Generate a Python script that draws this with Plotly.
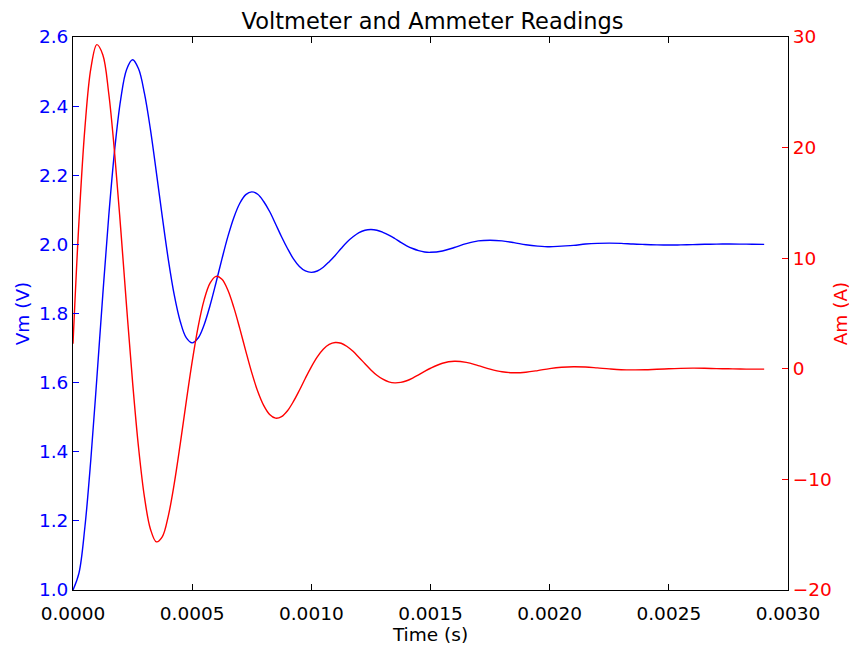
import plotly.graph_objects as go

time_s = [
    0.0, 0.000025, 0.00005, 0.000075, 0.0001, 0.000125, 0.00015, 0.000175, 0.0002, 0.000225,
    0.00025, 0.000275, 0.0003, 0.000325, 0.00035, 0.000375, 0.0004, 0.000425, 0.00045, 0.000475,
    0.0005, 0.000525, 0.00055, 0.000575, 0.0006, 0.000625, 0.00065, 0.000675, 0.0007, 0.000725,
    0.00075, 0.000775, 0.0008, 0.000825, 0.00085, 0.000875, 0.0009, 0.000925, 0.00095, 0.000975,
    0.001, 0.001025, 0.00105, 0.001075, 0.0011, 0.001125, 0.00115, 0.001175, 0.0012, 0.001225,
    0.00125, 0.001275, 0.0013, 0.001325, 0.00135, 0.001375, 0.0014, 0.001425, 0.00145, 0.001475,
    0.0015, 0.00155, 0.0016, 0.00165, 0.0017, 0.00175, 0.0018, 0.00185, 0.0019, 0.00195,
    0.002, 0.00205, 0.0021, 0.00215, 0.0022, 0.00225, 0.0023, 0.00235, 0.0024, 0.00245,
    0.0025, 0.00255, 0.0026, 0.00265, 0.0027, 0.00275, 0.0028, 0.00285, 0.0029,
]

voltmeter_v = [
    1.000, 1.049, 1.183, 1.379, 1.612, 1.854, 2.082, 2.275, 2.419, 2.506,
    2.534, 2.508, 2.436, 2.332, 2.207, 2.078, 1.956, 1.853, 1.777, 1.730,
    1.715, 1.729, 1.767, 1.823, 1.889, 1.958, 2.023, 2.078, 2.119, 2.144,
    2.152, 2.145, 2.124, 2.095, 2.059, 2.022, 1.988, 1.958, 1.936, 1.923,
    1.919, 1.923, 1.934, 1.950, 1.968, 1.988, 2.007, 2.022, 2.034, 2.041,
    2.043, 2.041, 2.035, 2.027, 2.017, 2.006, 1.996, 1.988, 1.982, 1.978,
    1.977, 1.981, 1.991, 2.002, 2.010, 2.012, 2.010, 2.005, 1.999, 1.995,
    1.993, 1.995, 1.997, 2.001, 2.003, 2.0035, 2.003, 2.001, 1.9997, 1.9985,
    1.998, 1.9985, 1.9993, 2.0002, 2.0008, 2.001, 2.0008, 2.0004, 1.9999,
]

ammeter_a = [
    2.27, 13.31, 21.78, 27.16, 29.31, 28.40, 24.89, 19.41, 12.72, 5.60,
    -1.21, -7.11, -11.63, -14.50, -15.65, -15.17, -13.29, -10.36, -6.79, -2.99,
    0.65, 3.80, 6.21, 7.74, 8.36, 8.10, 7.10, 5.53, 3.63, 1.60,
    -0.35, -2.03, -3.31, -4.13, -4.46, -4.32, -3.79, -2.95, -1.94, -0.85,
    0.18, 1.08, 1.77, 2.21, 2.38, 2.31, 2.02, 1.58, 1.03, 0.46,
    -0.10, -0.58, -0.94, -1.18, -1.27, -1.23, -1.08, -0.84, -0.55, -0.24,
    0.05, 0.50, 0.68, 0.58, 0.29, -0.03, -0.27, -0.36, -0.31, -0.16,
    0.02, 0.14, 0.19, 0.16, 0.08, -0.01, -0.08, -0.10, -0.09, -0.04,
    0.00, 0.04, 0.06, 0.05, 0.02, 0.00, -0.02, -0.03, -0.03,
]

x_ticks = [0.0, 0.0005, 0.001, 0.0015, 0.002, 0.0025, 0.003]
left_ticks = [1.0, 1.2, 1.4, 1.6, 1.8, 2.0, 2.2, 2.4, 2.6]
right_ticks = [-20, -10, 0, 10, 20, 30]

FONT = "DejaVu Sans"
TICK_SIZE = 18.5

W, H = 849, 637

fig = go.Figure()
fig.add_trace(go.Scatter(x=time_s, y=voltmeter_v, mode="lines", name="Vm",
                         line=dict(color="#0000ff", width=1.4, shape="spline", smoothing=1.0)))
fig.add_trace(go.Scatter(x=time_s, y=ammeter_a, mode="lines", name="Am", yaxis="y2",
                         line=dict(color="#ff0000", width=1.4, shape="spline", smoothing=1.0)))

fig.update_layout(
    width=W, height=H,
    margin=dict(l=65, r=69, t=29, b=55),
    paper_bgcolor="white", plot_bgcolor="white",
    showlegend=False,
    font=dict(family=FONT, size=TICK_SIZE, color="black"),
    title=dict(text="Voltmeter and Ammeter Readings", x=0.5, xanchor="center",
               y=1 - 13 / H, yanchor="middle", font=dict(family=FONT, size=22.5, color="black")),
    xaxis=dict(
        range=[0, 0.003], tickvals=x_ticks, tickformat=".4f",
        ticks="inside", ticklen=6, tickcolor="black", tickwidth=1,
        ticklabelstandoff=7,
        showline=True, linecolor="black", linewidth=1, mirror="ticks",
        showgrid=False, zeroline=False,
        tickfont=dict(family=FONT, size=TICK_SIZE, color="black"),
        title=dict(text="Time (s)", font=dict(family=FONT, size=TICK_SIZE, color="black"), standoff=0),
        automargin=False,
    ),
    yaxis=dict(
        range=[1.0, 2.6], tickvals=left_ticks, tickformat=".1f",
        ticks="inside", ticklen=6, tickcolor="#0000ff", tickwidth=1,
        showline=True, linecolor="black", linewidth=1, mirror=False,
        showgrid=False, zeroline=False,
        tickfont=dict(family=FONT, size=TICK_SIZE, color="#0000ff"),
        title=dict(text="Vm (V)", font=dict(family=FONT, size=TICK_SIZE, color="#0000ff"), standoff=4),
        automargin=False,
    ),
    yaxis2=dict(
        range=[-20, 30], tickvals=right_ticks,
        overlaying="y", side="right",
        ticks="inside", ticklen=6, tickcolor="#ff0000", tickwidth=1,
        showline=True, linecolor="black", linewidth=1,
        showgrid=False, zeroline=False,
        tickfont=dict(family=FONT, size=TICK_SIZE, color="#ff0000"),
        title=dict(text="Am (A)", font=dict(family=FONT, size=TICK_SIZE, color="#ff0000"), standoff=3),
        automargin=False,
    ),
)

fig.write_html("out.html")
